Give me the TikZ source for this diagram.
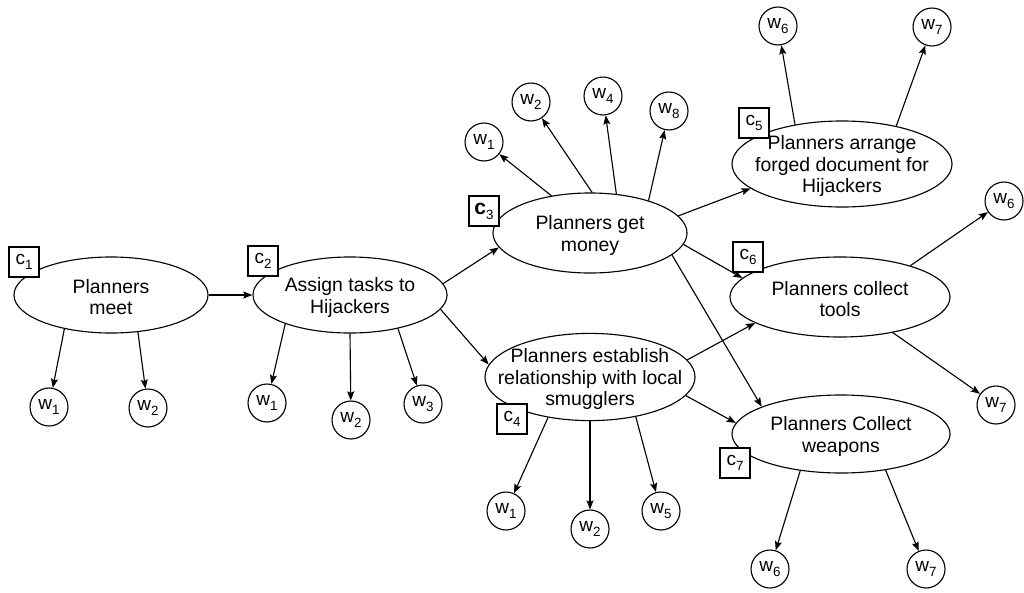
\documentclass[tikz,border=0pt]{standalone}
\usepackage{fontspec}
\setmainfont{Liberation Sans}
\usetikzlibrary{arrows.meta, shapes.geometric}

% letter with a lowered index, as in w1 or c3
\newcommand{\idx}[2]{#1\raisebox{-3.5pt}{\fontsize{9.5}{9.5}\selectfont #2}}

\begin{document}
\begin{tikzpicture}[x=0.025cm, y=-0.025cm, line width=0.8pt,
    >={Stealth[length=6.5pt, width=5pt, inset=1.2pt]},
    event/.style 2 args={draw, ellipse, inner sep=0pt,
                         minimum width=#1, minimum height=#2},
    evtext/.style={align=center, yshift=-1.5pt,
                   font=\fontsize{13.8}{15.5}\selectfont},
    wnode/.style={draw, circle, minimum size=27pt, inner sep=0pt,
                  font=\fontsize{13.5}{13.5}\selectfont},
    cbox/.style={draw, fill=white, line width=1.2pt, minimum size=21pt,
                 inner sep=0pt, font=\fontsize{13.5}{13.5}\selectfont}]
  \useasboundingbox (0,0) rectangle (1024,592);

  % events
  \node[event={4.85cm}{1.9cm}, label={[evtext]center:{Planners\\meet}}] (meet) at (111,295) {};
  \node[event={4.85cm}{1.9cm}, label={[evtext]center:{Assign tasks to\\Hijackers}}] (assign) at (350,295) {};
  \node[event={4.85cm}{2cm}, label={[evtext]center:{Planners get\\money}}] (money) at (590,233) {};
  \node[event={5.5cm}{2.15cm}, label={[evtext]center:{Planners arrange\\forged document for\\Hijackers}}] (forge) at (842,164) {};
  \node[event={5.25cm}{2.18cm}, label={[evtext]center:{Planners establish\\relationship with local\\smugglers}}] (smug) at (590,377) {};
  \node[event={5.5cm}{2cm}, label={[evtext]center:{Planners collect\\tools}}] (tools) at (840,297) {};
  \node[event={5.45cm}{1.95cm}, label={[evtext]center:{Planners Collect\\weapons}}] (weap) at (841,434) {};

  % context boxes
  \node[cbox] (c1) at (24,262) {\idx{c}{1}};
  \node[cbox] (c2) at (263,261) {\idx{c}{2}};
  \node[cbox] (c3) at (484,211) {\idx{{\fontsize{15}{15}\bfseries c}}{3}};
  \node[cbox] (c4) at (512,419) {\idx{c}{4}};
  \node[cbox] (c5) at (754,123) {\idx{c}{5}};
  \node[cbox] (c6) at (748,257) {\idx{c}{6}};
  \node[cbox] (c7) at (735,463) {\idx{c}{7}};

  % witnesses
  \node[wnode] (meetw1) at (49,407) {\idx{w}{1}};
  \node[wnode] (meetw2) at (148,408) {\idx{w}{2}};
  \node[wnode] (assignw1) at (267,403) {\idx{w}{1}};
  \node[wnode] (assignw2) at (351,420) {\idx{w}{2}};
  \node[wnode] (assignw3) at (423,404) {\idx{w}{3}};
  \node[wnode] (moneyw1) at (484,142) {\idx{w}{1}};
  \node[wnode] (moneyw2) at (531,102) {\idx{w}{2}};
  \node[wnode] (moneyw4) at (603,96) {\idx{w}{4}};
  \node[wnode] (moneyw8) at (669,111) {\idx{w}{8}};
  \node[wnode] (forgew6) at (778,26) {\idx{w}{6}};
  \node[wnode] (forgew7) at (932,27) {\idx{w}{7}};
  \node[wnode] (toolsw6) at (1004,201) {\idx{w}{6}};
  \node[wnode] (toolsw7) at (996,405) {\idx{w}{7}};
  \node[wnode] (smugw1) at (506,511) {\idx{w}{1}};
  \node[wnode] (smugw2) at (590,529) {\idx{w}{2}};
  \node[wnode] (smugw5) at (661,511) {\idx{w}{5}};
  \node[wnode] (weapw6) at (770,569) {\idx{w}{6}};
  \node[wnode] (weapw7) at (926,569) {\idx{w}{7}};

  % event order
  \draw[->] (meet.0) -- (assign.180);
  \draw[->] (assign.7) -- (money.189);
  \draw[->] (assign.351) -- (smug.173);
  \draw[->] (money.11) -- (forge.195);
  \draw[->] (money.353) -- (tools.169);
  \draw[->] (money.345) -- (weap.161);
  \draw[->] (smug.10) -- (tools.197);
  \draw[->] (smug.349) -- (weap.174);

  % event -> witness
  \draw[->] (meet.216) -- (meetw1);
  \draw[->] (meet.306) -- (meetw2);
  \draw[->] (assign.204) -- (assignw1);
  \draw[->] (assign.270) -- (assignw2);
  \draw[->] (assign.325) -- (assignw3);
  \draw[->] (money.136) -- (moneyw1);
  \draw[->] (money.87) -- (moneyw2);
  \draw[->] (money.56) -- (moneyw4);
  \draw[->] (money.29) -- (moneyw8);
  \draw[->] (forge.140) -- (forgew6);
  \draw[->] (forge.35) -- (forgew7);
  \draw[->] (tools.24) -- (toolsw6);
  \draw[->] (tools.326) -- (toolsw7);
  \draw[->] (smug.224) -- (smugw1);
  \draw[->] (smug.270) -- (smugw2);
  \draw[->] (smug.319) -- (smugw5);
  \draw[->] (weap.222) -- (weapw6);
  \draw[->] (weap.321) -- (weapw7);
\end{tikzpicture}
\end{document}
